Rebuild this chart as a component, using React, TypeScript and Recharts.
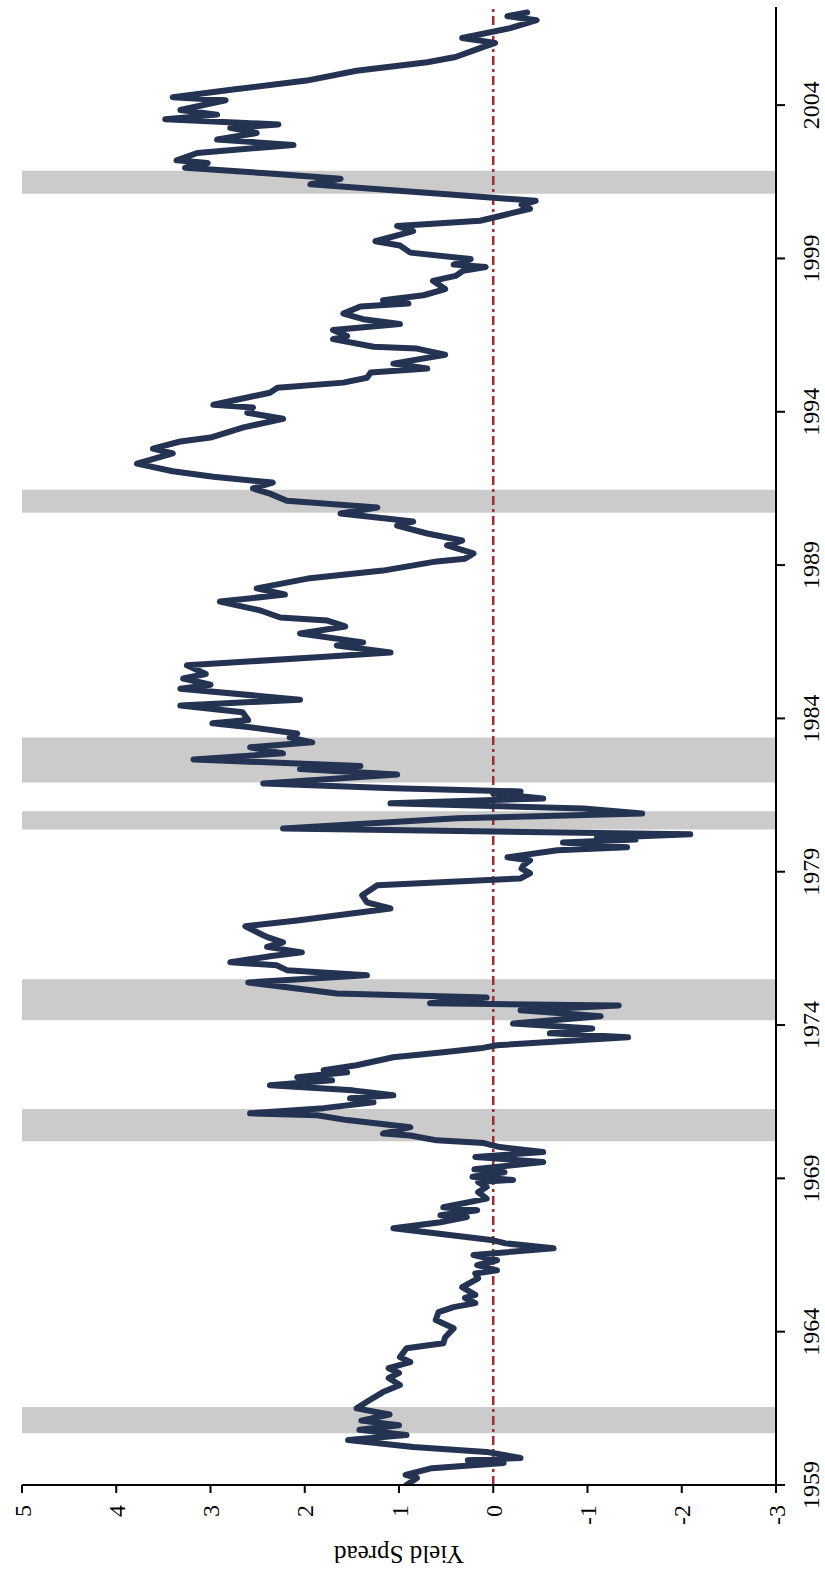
import React from 'react';
import {
  LineChart,
  Line,
  XAxis,
  YAxis,
  ReferenceArea,
  ReferenceLine,
  Label,
} from 'recharts';

// Yield spread (monthly-ish points)
const years = [
  1959.0, 1959.23, 1959.33, 1959.55, 1959.72, 1959.81, 1959.88, 1960.08, 1960.24, 1960.47,
  1960.63, 1960.8, 1960.95, 1961.1, 1961.3, 1961.5, 1961.77, 1962.03, 1962.26, 1962.49,
  1962.65, 1962.81, 1963.01, 1963.17, 1963.46, 1963.62, 1963.82, 1964.11, 1964.38, 1964.64,
  1964.8, 1964.93, 1965.1, 1965.2, 1965.45, 1965.74, 1965.9, 1966.0, 1966.17, 1966.33,
  1966.5, 1966.72, 1966.88, 1966.98, 1967.37, 1967.57, 1967.74, 1967.8, 1967.96, 1968.06,
  1968.34, 1968.55, 1968.72, 1968.88, 1968.95, 1969.05, 1969.2, 1969.3, 1969.53, 1969.7,
  1969.86, 1970.02, 1970.15, 1970.24, 1970.4, 1970.46, 1970.67, 1970.9, 1971.06, 1971.12,
  1971.29, 1971.48, 1971.61, 1971.71, 1971.87, 1972.04, 1972.2, 1972.3, 1972.46, 1972.53,
  1972.69, 1972.95, 1973.11, 1973.24, 1973.34, 1973.6, 1973.73, 1973.89, 1974.05, 1974.29,
  1974.48, 1974.64, 1974.71, 1974.9, 1975.03, 1975.39, 1975.62, 1975.79, 1975.95, 1976.05,
  1976.25, 1976.37, 1976.55, 1976.7, 1976.85, 1976.93, 1977.22, 1977.41, 1977.8, 1978.0,
  1978.23, 1978.56, 1978.78, 1978.95, 1979.1, 1979.21, 1979.37, 1979.47, 1979.7, 1979.8,
  1979.95, 1980.05, 1980.1, 1980.22, 1980.41, 1980.74, 1980.9, 1981.06, 1981.23, 1981.39,
  1981.55, 1981.62, 1981.72, 1981.88, 1982.17, 1982.35, 1982.45, 1982.66, 1982.86, 1983.06,
  1983.22, 1983.38, 1983.51, 1983.71, 1983.84, 1983.95, 1984.2, 1984.42, 1984.61, 1984.97,
  1985.1, 1985.3, 1985.45, 1985.73, 1985.99, 1986.15, 1986.38, 1986.48, 1986.77, 1987.0,
  1987.19, 1987.29, 1987.52, 1987.81, 1988.04, 1988.24, 1988.56, 1988.82, 1989.12, 1989.21,
  1989.38, 1989.64, 1989.8, 1990.03, 1990.29, 1990.42, 1990.68, 1990.88, 1991.1, 1991.33,
  1991.5, 1991.69, 1991.88, 1992.06, 1992.31, 1992.64, 1992.8, 1993.03, 1993.16, 1993.49,
  1993.77, 1993.97, 1994.14, 1994.23, 1994.62, 1994.78, 1994.95, 1995.11, 1995.28, 1995.41,
  1995.57, 1995.86, 1996.06, 1996.12, 1996.37, 1996.47, 1996.67, 1996.86, 1997.02, 1997.2,
  1997.43, 1997.53, 1997.64, 1997.8, 1998.0, 1998.27, 1998.43, 1998.6, 1998.72, 1998.8,
  1998.98, 1999.19, 1999.42, 1999.56, 1999.89, 2000.06, 2000.23, 2000.62, 2000.75, 2000.88,
  2001.1, 2001.42, 2001.6, 2001.77, 2001.96, 2002.11, 2002.2, 2002.44, 2002.7, 2002.88,
  2003.09, 2003.26, 2003.37, 2003.54, 2003.69, 2003.84, 2004.16, 2004.26, 2004.51, 2004.8,
  2005.12, 2005.4, 2005.57, 2005.86, 2006.03, 2006.19, 2006.51, 2006.77, 2006.9, 2007.02,
];

const spread = [
  0.92, 0.81, 0.93, 0.65, -0.11, 0.27, -0.29, 0.07, 0.85, 1.54,
  0.92, 1.42, 1.0, 1.4, 1.1, 1.45, 1.31, 1.17, 0.99, 1.11,
  1.0, 1.11, 0.88, 0.99, 0.92, 0.53, 0.51, 0.42, 0.61, 0.58,
  0.42, 0.19, 0.3, 0.19, 0.33, 0.16, 0.19, -0.04, 0.17, -0.04,
  0.21, -0.64, -0.13, 0.0, 1.06, 0.56, 0.28, 0.56, 0.17, 0.53,
  0.07, 0.16, 0.07, 0.16, -0.21, 0.22, -0.12, 0.2, -0.53, 0.19,
  -0.53, -0.07, 0.1, 0.6, 0.88, 1.17, 0.88, 1.55, 1.87, 2.58,
  1.8, 1.27, 1.52, 1.06, 1.49, 2.37, 1.71, 2.08, 1.55, 1.8,
  1.45, 1.06, 0.53, 0.14, -0.04, -1.43, -0.6, -1.05, -0.21, -1.14,
  -0.29, -1.33, 0.67, 0.07, 1.66, 2.6, 1.34, 2.19, 2.3, 2.79,
  2.35, 2.03, 2.4, 2.23, 2.38, 2.44, 2.63, 2.08, 1.09, 1.34,
  1.39, 1.23, -0.29, -0.39, -0.3, -0.32, -0.39, -0.15, -0.68, -1.42,
  -0.74, -1.51, -1.1, -2.09, 2.23, 0.38, -1.58, -0.96, 1.09, -0.53,
  0.0, -0.29, 1.06, 2.44, 1.02, 2.05, 1.41, 3.18, 2.23, 2.58,
  1.92, 2.16, 2.08, 2.58, 2.98, 2.6, 2.66, 3.32, 2.05, 3.32,
  3.0, 3.29, 3.05, 3.25, 1.91, 1.09, 1.66, 1.38, 2.05, 1.57,
  1.76, 2.26, 2.47, 2.9, 2.21, 2.51, 1.97, 1.17, 0.6, 0.3,
  0.21, 0.49, 0.33, 0.7, 1.02, 0.85, 1.62, 1.23, 2.19, 2.37,
  2.55, 2.34, 2.97, 3.4, 3.78, 3.4, 3.61, 3.32, 3.0, 2.65,
  2.23, 2.61, 2.55, 2.97, 2.37, 2.29, 1.59, 1.34, 1.3, 0.7,
  1.06, 0.51, 0.81, 1.27, 1.7, 1.55, 1.7, 0.99, 1.38, 1.59,
  1.41, 0.9, 1.17, 0.74, 0.51, 0.64, 0.4, 0.32, 0.08, 0.42,
  0.24, 0.88, 0.99, 1.25, 0.85, 1.02, 0.14, -0.39, -0.3, -0.45,
  0.53, 1.94, 1.62, 2.37, 3.27, 3.03, 3.36, 3.14, 2.12, 2.93,
  2.51, 2.79, 2.28, 3.48, 2.93, 3.32, 2.84, 3.4, 2.76, 1.98,
  1.45, 0.7, 0.4, 0.14, -0.02, 0.33, -0.18, -0.46, -0.15, -0.36,
];

// shaded recession periods (start / end)
const recessionStart = [1960.69, 1970.21, 1974.16, 1980.38, 1981.91, 1990.71, 2001.11];
const recessionEnd = [1961.54, 1971.26, 1975.49, 1980.97, 1983.38, 1991.46, 2001.86];

const yearTicks = [1959, 1964, 1969, 1974, 1979, 1984, 1989, 1994, 1999, 2004];
const spreadTicks = [-3, -2, -1, 0, 1, 2, 3, 4, 5];

const chartData = years.map((year, i) => ({ year, spread: spread[i] }));

const FONT = '"Liberation Serif", "Times New Roman", serif';
const LINE_COLOR = '#233351';
const BAND_COLOR = '#cbcbcb';
const ZERO_COLOR = '#9e2f2c';

// chart is drawn landscape and turned a quarter-turn counter-clockwise
const W = 1572;
const H = 825;

const App: React.FC = () => {
  return (
    <div style={{ position: 'absolute', left: 0, top: 0, width: H, height: W, overflow: 'hidden', background: '#fff' }}>
      <div
        style={{
          position: 'absolute',
          left: 0,
          top: 0,
          width: W,
          height: H,
          transformOrigin: '0 0',
          transform: `translateY(${W}px) rotate(-90deg)`,
        }}
      >
        <LineChart width={W} height={H} data={chartData} margin={{ top: 22, right: 7, bottom: 0, left: 0 }}>
          {recessionStart.map((s, i) => (
            <ReferenceArea key={`rec-${i}`} x1={s} x2={recessionEnd[i]} fill={BAND_COLOR} fillOpacity={1} stroke="none" />
          ))}
          <XAxis
            type="number"
            dataKey="year"
            domain={[1959, 2007.2]}
            ticks={yearTicks}
            allowDataOverflow
            height={49}
            tickSize={9}
            tickMargin={17}
            axisLine={{ stroke: '#000', strokeWidth: 2 }}
            tickLine={{ stroke: '#000', strokeWidth: 2 }}
            tick={{ fill: '#000', fontSize: 24, fontFamily: FONT }}
          />
          <YAxis
            type="number"
            domain={[-3, 5]}
            ticks={spreadTicks}
            width={87}
            tickSize={8}
            tickMargin={12}
            axisLine={{ stroke: '#000', strokeWidth: 2 }}
            tickLine={{ stroke: '#000', strokeWidth: 2 }}
            tick={{ fill: '#000', fontSize: 24, fontFamily: FONT }}
          >
            <Label
              value="Yield Spread"
              angle={-90}
              position="insideLeft"
              offset={17}
              style={{ textAnchor: 'middle', fontSize: 25, fontFamily: FONT, fill: '#000' }}
            />
          </YAxis>
          <ReferenceLine y={0} stroke={ZERO_COLOR} strokeWidth={2.5} strokeDasharray="9 4 3 4" />
          <Line
            type="linear"
            dataKey="spread"
            stroke={LINE_COLOR}
            strokeWidth={6}
            strokeLinejoin="round"
            strokeLinecap="round"
            dot={false}
            activeDot={false}
            isAnimationActive={false}
          />
        </LineChart>
      </div>
    </div>
  );
};

export default App;
